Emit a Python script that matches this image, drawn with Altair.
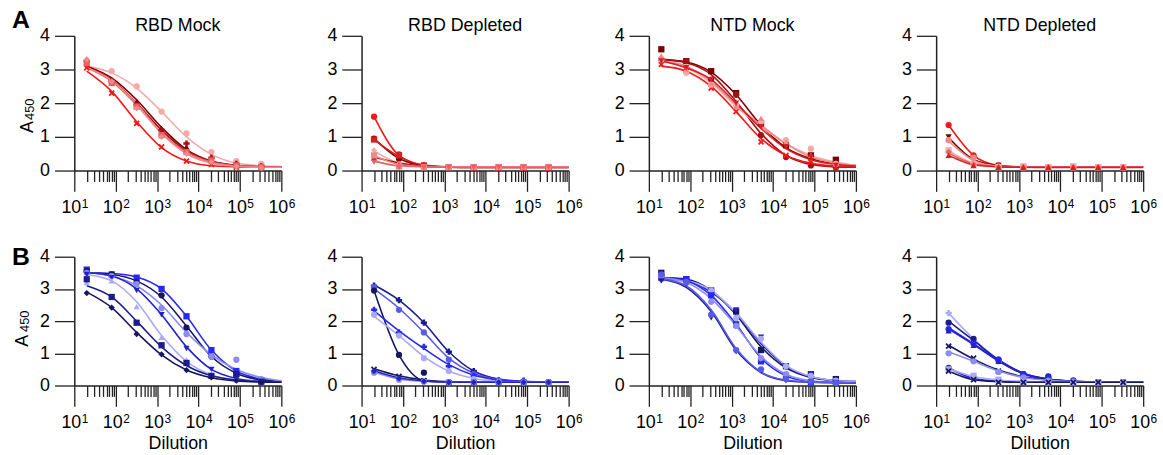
import altair as alt
import pandas as pd

# ---------------- data ----------------
DILUTIONS = [20, 80, 320, 1280, 5120, 20480, 81920, 327680]
FIT_DILUTIONS = DILUTIONS + [1000000]

PANEL_TITLES = ["RBD Mock", "RBD Depleted", "NTD Mock", "NTD Depleted"]
ROW_LABELS = ["A", "B"]
Y_TITLE_MAIN = "A"
Y_TITLE_SUB = "450"
X_TITLE = "Dilution"
X_MAJOR = [10, 100, 1000, 10000, 100000, 1000000]
X_MAJOR_BASE = ["10"] * 6
X_MAJOR_EXP = ["1", "2", "3", "4", "5", "6"]

RED_SHADES = ["#7a0000", "#a50f15", "#d42020", "#f01818", "#e86060", "#f08a8a", "#f5aaaa"]
BLUE_SHADES = ["#17175e", "#1c1c8c", "#2222c8", "#2828f5", "#5a5ae8", "#8c8cf2", "#aaaaf8"]

X_PATH = ("M-1,-0.6L-0.6,-1L0,-0.4L0.6,-1L1,-0.6L0.4,0L1,0.6L0.6,1L0,0.4"
          "L-0.6,1L-1,0.6L-0.4,0Z")
SHAPES = {"o": "circle", "s": "square", "v": "triangle-down", "^": "triangle-up",
          "d": "diamond", "+": "cross", "x": X_PATH}

# each panel: series style keys (shade index, marker) and values
A1_STYLE = [(6, "o"), (3, "x"), (0, "^"), (1, "+"), (4, "s"), (5, "d")]
A1_PTS = [
    [3.15, 2.95, 2.5, 1.75, 1.1, 0.55, 0.28, 0.2],
    [3.05, 2.3, 1.4, 0.7, 0.28, 0.18, 0.1, 0.1],
    [3.3, 2.7, 2.05, 1.25, 0.7, 0.35, 0.2, 0.12],
    [3.25, 2.65, 1.95, 1.2, 0.8, 0.38, 0.2, 0.12],
    [3.2, 2.6, 1.9, 1.05, 0.55, 0.3, 0.15, 0.1],
    [3.3, 2.65, 1.85, 1.0, 0.5, 0.25, 0.12, 0.08],
]
A1_FIT = [
    [3.1, 2.9, 2.45, 1.75, 1.0, 0.48, 0.22, 0.14, 0.12],
    [2.95, 2.35, 1.45, 0.68, 0.28, 0.14, 0.11, 0.1, 0.1],
    [3.1, 2.75, 2.1, 1.28, 0.62, 0.28, 0.15, 0.11, 0.1],
    [3.08, 2.7, 2.0, 1.2, 0.58, 0.27, 0.15, 0.11, 0.1],
    [3.05, 2.65, 1.95, 1.12, 0.55, 0.25, 0.14, 0.1, 0.1],
    [3.05, 2.68, 1.98, 1.1, 0.5, 0.22, 0.13, 0.1, 0.1],
]

A2_STYLE = [(3, "o"), (0, "o"), (2, "s"), (6, "d"), (1, "^"), (5, "s"), (4, "v")]
A2_PTS = [
    [1.6, 0.48, 0.15, 0.1, 0.08, 0.08, 0.07, 0.07],
    [0.95, 0.35, 0.14, 0.1, 0.08, 0.08, 0.08, 0.07],
    [0.92, 0.45, 0.15, 0.1, 0.1, 0.09, 0.1, 0.09],
    [0.6, 0.2, 0.1, 0.1, 0.1, 0.1, 0.12, 0.1],
    [0.38, 0.18, 0.1, 0.1, 0.09, 0.09, 0.09, 0.09],
    [0.45, 0.12, 0.1, 0.1, 0.1, 0.1, 0.1, 0.1],
    [0.25, 0.1, 0.1, 0.1, 0.1, 0.1, 0.1, 0.1],
]
A2_FIT = [
    [1.6, 0.45, 0.15, 0.1, 0.09, 0.09, 0.09, 0.09, 0.09],
    [0.95, 0.36, 0.14, 0.1, 0.09, 0.09, 0.09, 0.09, 0.09],
    [0.92, 0.42, 0.16, 0.11, 0.1, 0.1, 0.1, 0.1, 0.1],
    [0.58, 0.22, 0.12, 0.1, 0.1, 0.1, 0.1, 0.1, 0.1],
    [0.4, 0.22, 0.13, 0.1, 0.1, 0.1, 0.1, 0.1, 0.1],
    [0.45, 0.18, 0.12, 0.11, 0.11, 0.11, 0.11, 0.11, 0.11],
    [0.28, 0.14, 0.11, 0.1, 0.1, 0.1, 0.1, 0.1, 0.1],
]

A3_STYLE = [(0, "s"), (1, "o"), (3, "x"), (6, "o"), (5, "^"), (2, "v")]
A3_PTS = [
    [3.6, 3.25, 2.95, 2.3, 1.4, 0.75, 0.45, 0.32],
    [3.3, 3.25, 2.7, 2.25, 1.05, 0.4, 0.15, 0.1],
    [3.15, 2.95, 2.45, 1.75, 0.85, 0.45, 0.25, 0.1],
    [3.3, 2.9, 2.55, 1.95, 1.45, 0.9, 0.65, 0.2],
    [3.4, 3.0, 2.6, 1.9, 1.55, 0.85, 0.45, 0.2],
    [3.25, 3.05, 2.7, 2.0, 1.3, 0.7, 0.4, 0.15],
]
A3_FIT = [
    [3.3, 3.22, 2.92, 2.25, 1.35, 0.68, 0.35, 0.2, 0.15],
    [3.3, 3.2, 2.85, 2.05, 1.1, 0.45, 0.18, 0.11, 0.1],
    [3.1, 2.95, 2.5, 1.75, 0.95, 0.45, 0.22, 0.13, 0.11],
    [3.25, 3.05, 2.6, 1.9, 1.3, 0.8, 0.45, 0.25, 0.15],
    [3.25, 3.1, 2.65, 1.95, 1.35, 0.8, 0.4, 0.22, 0.15],
    [3.25, 3.05, 2.7, 2.0, 1.25, 0.65, 0.32, 0.18, 0.13],
]

A4_STYLE = [(3, "o"), (0, "v"), (5, "o"), (6, "s"), (4, "d"), (2, "^")]
A4_PTS = [
    [1.35, 0.45, 0.15, 0.1, 0.08, 0.08, 0.08, 0.08],
    [1.0, 0.35, 0.15, 0.12, 0.1, 0.12, 0.1, 0.1],
    [0.9, 0.38, 0.12, 0.1, 0.1, 0.1, 0.1, 0.1],
    [0.6, 0.2, 0.1, 0.1, 0.1, 0.1, 0.1, 0.1],
    [0.55, 0.18, 0.1, 0.1, 0.1, 0.1, 0.1, 0.1],
    [0.45, 0.15, 0.1, 0.1, 0.1, 0.1, 0.1, 0.1],
]
A4_FIT = [
    [1.35, 0.45, 0.15, 0.1, 0.09, 0.09, 0.09, 0.09, 0.09],
    [0.98, 0.33, 0.15, 0.11, 0.1, 0.1, 0.1, 0.1, 0.1],
    [0.88, 0.3, 0.13, 0.1, 0.1, 0.1, 0.1, 0.1, 0.1],
    [0.6, 0.22, 0.12, 0.1, 0.1, 0.1, 0.1, 0.1, 0.1],
    [0.52, 0.2, 0.12, 0.1, 0.1, 0.1, 0.1, 0.1, 0.1],
    [0.45, 0.17, 0.11, 0.1, 0.1, 0.1, 0.1, 0.1, 0.1],
]

B1_STYLE = [(3, "s"), (0, "o"), (5, "o"), (2, "v"), (6, "^"), (1, "s"), (0, "d")]
B1_PTS = [
    [3.6, 3.45, 3.35, 3.0, 2.15, 1.1, 0.45, 0.15],
    [3.55, 3.45, 3.2, 2.8, 1.8, 0.9, 0.35, 0.12],
    [3.5, 3.4, 3.15, 2.4, 1.6, 0.9, 0.8, 0.2],
    [3.45, 3.35, 2.95, 2.2, 1.15, 0.5, 0.2, 0.1],
    [3.2, 3.25, 2.45, 1.5, 0.8, 0.35, 0.18, 0.12],
    [3.3, 2.75, 1.95, 1.25, 0.7, 0.3, 0.35, 0.12],
    [2.87, 2.42, 1.6, 0.97, 0.48, 0.25, 0.15, 0.1],
]
B1_FIT = [
    [3.5, 3.48, 3.37, 3.0, 2.15, 1.1, 0.45, 0.2, 0.13],
    [3.5, 3.45, 3.25, 2.75, 1.85, 0.9, 0.38, 0.17, 0.12],
    [3.5, 3.4, 3.1, 2.5, 1.65, 0.95, 0.5, 0.25, 0.15],
    [3.5, 3.4, 3.0, 2.2, 1.2, 0.5, 0.22, 0.13, 0.11],
    [3.45, 3.25, 2.6, 1.55, 0.75, 0.33, 0.17, 0.12, 0.1],
    [3.1, 2.75, 2.0, 1.2, 0.62, 0.3, 0.17, 0.12, 0.1],
    [2.9, 2.42, 1.65, 0.95, 0.48, 0.24, 0.14, 0.11, 0.1],
]

B2_STYLE = [(1, "+"), (4, "o"), (0, "o"), (3, "+"), (6, "o"), (0, "x"), (5, "o"), (2, "d")]
B2_PTS = [
    [3.1, 2.65, 1.95, 1.05, 0.45, 0.15, 0.15, 0.1],
    [3.05, 2.35, 1.65, 0.8, 0.35, 0.15, 0.12, 0.1],
    [2.95, 0.95, 0.4, 0.1, 0.1, 0.1, 0.1, 0.1],
    [2.35, 1.65, 1.2, 0.6, 0.3, 0.15, 0.12, 0.1],
    [2.2, 1.55, 0.85, 0.45, 0.2, 0.12, 0.1, 0.1],
    [0.5, 0.28, 0.15, 0.1, 0.1, 0.1, 0.1, 0.1],
    [0.4, 0.18, 0.12, 0.1, 0.1, 0.1, 0.1, 0.1],
    [0.45, 0.22, 0.13, 0.1, 0.1, 0.1, 0.1, 0.1],
]
B2_FIT = [
    [3.12, 2.65, 1.95, 1.05, 0.45, 0.2, 0.13, 0.11, 0.1],
    [3.0, 2.4, 1.65, 0.85, 0.38, 0.18, 0.12, 0.1, 0.1],
    [2.95, 0.95, 0.15, 0.1, 0.1, 0.1, 0.1, 0.1, 0.1],
    [2.32, 1.7, 1.15, 0.65, 0.32, 0.17, 0.12, 0.1, 0.1],
    [2.15, 1.55, 0.9, 0.45, 0.22, 0.13, 0.1, 0.1, 0.1],
    [0.52, 0.3, 0.17, 0.12, 0.1, 0.1, 0.1, 0.1, 0.1],
    [0.42, 0.2, 0.13, 0.11, 0.1, 0.1, 0.1, 0.1, 0.1],
    [0.46, 0.24, 0.14, 0.11, 0.1, 0.1, 0.1, 0.1, 0.1],
]

B3_STYLE = [(0, "s"), (2, "v"), (6, "o"), (3, "s"), (5, "o"), (1, "v"), (4, "o")]
B3_PTS = [
    [3.5, 3.3, 2.95, 2.3, 1.1, 0.6, 0.35, 0.2],
    [3.35, 3.3, 2.85, 2.35, 1.5, 0.55, 0.35, 0.15],
    [3.3, 3.25, 2.95, 2.1, 1.45, 0.6, 0.3, 0.15],
    [3.35, 3.3, 2.8, 1.9, 0.75, 0.3, 0.1, 0.08],
    [3.4, 3.2, 2.6, 1.85, 0.85, 0.35, 0.15, 0.1],
    [3.25, 3.15, 2.1, 1.05, 0.45, 0.15, 0.1, 0.08],
    [3.45, 3.2, 2.2, 1.1, 0.5, 0.2, 0.12, 0.08],
]
B3_FIT = [
    [3.35, 3.3, 2.95, 2.2, 1.2, 0.55, 0.25, 0.15, 0.12],
    [3.35, 3.28, 2.9, 2.25, 1.3, 0.6, 0.27, 0.15, 0.12],
    [3.3, 3.25, 2.95, 2.25, 1.35, 0.62, 0.28, 0.15, 0.12],
    [3.35, 3.25, 2.8, 1.9, 0.85, 0.3, 0.12, 0.09, 0.08],
    [3.35, 3.2, 2.7, 1.85, 0.9, 0.35, 0.15, 0.1, 0.1],
    [3.3, 3.05, 2.3, 1.1, 0.4, 0.15, 0.1, 0.09, 0.08],
    [3.32, 3.1, 2.35, 1.15, 0.42, 0.17, 0.11, 0.09, 0.08],
]

B4_STYLE = [(6, "+"), (1, "o"), (3, "o"), (2, "^"), (0, "x"), (5, "o"), (3, "o"), (6, "s"), (0, "x")]
B4_PTS = [
    [2.25, 1.4, 0.75, 0.35, 0.2, 0.12, 0.1, 0.1],
    [1.95, 1.45, 0.8, 0.35, 0.28, 0.15, 0.1, 0.1],
    [1.75, 1.3, 0.8, 0.35, 0.25, 0.15, 0.1, 0.1],
    [1.7, 1.25, 0.75, 0.3, 0.2, 0.12, 0.1, 0.1],
    [1.22, 0.85, 0.45, 0.25, 0.15, 0.12, 0.1, 0.1],
    [1.0, 0.75, 0.42, 0.25, 0.15, 0.12, 0.1, 0.1],
    [0.55, 0.25, 0.15, 0.12, 0.1, 0.1, 0.1, 0.1],
    [0.5, 0.3, 0.18, 0.12, 0.1, 0.1, 0.1, 0.1],
    [0.45, 0.18, 0.1, 0.1, 0.1, 0.1, 0.1, 0.1],
]
B4_FIT = [
    [2.25, 1.45, 0.8, 0.38, 0.2, 0.13, 0.11, 0.1, 0.1],
    [2.0, 1.4, 0.8, 0.38, 0.2, 0.13, 0.11, 0.1, 0.1],
    [1.8, 1.3, 0.78, 0.37, 0.2, 0.13, 0.11, 0.1, 0.1],
    [1.75, 1.27, 0.76, 0.36, 0.19, 0.13, 0.11, 0.1, 0.1],
    [1.25, 0.82, 0.48, 0.27, 0.17, 0.12, 0.11, 0.1, 0.1],
    [1.05, 0.75, 0.45, 0.25, 0.16, 0.12, 0.11, 0.1, 0.1],
    [0.55, 0.22, 0.14, 0.12, 0.11, 0.1, 0.1, 0.1, 0.1],
    [0.52, 0.28, 0.17, 0.12, 0.1, 0.1, 0.1, 0.1, 0.1],
    [0.45, 0.18, 0.12, 0.1, 0.1, 0.1, 0.1, 0.1, 0.1],
]

PANELS = [
    [(A1_STYLE, A1_PTS, A1_FIT), (A2_STYLE, A2_PTS, A2_FIT),
     (A3_STYLE, A3_PTS, A3_FIT), (A4_STYLE, A4_PTS, A4_FIT)],
    [(B1_STYLE, B1_PTS, B1_FIT), (B2_STYLE, B2_PTS, B2_FIT),
     (B3_STYLE, B3_PTS, B3_FIT), (B4_STYLE, B4_PTS, B4_FIT)],
]
SHADES = [RED_SHADES, BLUE_SHADES]

# ---------------- styling / layout ----------------
FONT = "Liberation Sans"
FS = 18
X_TICKS = [m * 10 ** k for k in range(1, 6) for m in range(1, 10)] + [10 ** 6]
LOG10 = "log(datum.value)/LN10"
MAJOR = f"abs({LOG10} - round({LOG10})) < 0.001"
ROW_HEIGHTS = [136, 130]
PANEL_W = 209
YT_X = [-42, -47]          # baseline of rotated y title, per row
YT_A_Y = [98, 91]          # start of "A" along the rotated title, per row
YT_SUB_Y = [85, 76]        # start of the subscript, per row


def text_layer(txt, **kw):
    enc = {k: alt.value(v) for k, v in kw.pop("pos").items()}
    return alt.Chart(pd.DataFrame({"t": [txt]})).mark_text(
        font=FONT, color="black", **kw).encode(text="t:N", **enc)


def build_panel(r, c):
    style, pts, fit = PANELS[r][c]
    shades = SHADES[r]
    h = ROW_HEIGHTS[r]
    pt_rows, fit_rows = [], []
    for i, ((shade, mk), pv, fv) in enumerate(zip(style, pts, fit)):
        for d, v in zip(DILUTIONS, pv):
            pt_rows.append({"sid": i, "dil": d, "val": v, "col": shades[shade], "shp": SHAPES[mk]})
        for d, v in zip(FIT_DILUTIONS, fv):
            fit_rows.append({"sid": i, "dil": d, "val": v, "col": shades[shade]})
    df_pts = pd.DataFrame(pt_rows)
    df_fit = pd.DataFrame(fit_rows)
    df_lab = pd.DataFrame({"dil": X_MAJOR, "base": X_MAJOR_BASE, "exp": X_MAJOR_EXP})

    x_axis = alt.Axis(
        values=X_TICKS,
        tickSize={"condition": {"test": MAJOR, "value": 21}, "value": 11},
        labelExpr="''",
        title=X_TITLE if r == 1 else None,
        titlePadding=9,
    )
    y_axis = alt.Axis(values=[0, 1, 2, 3, 4], tickSize=20, labelPadding=5, title=None)
    x = alt.X("dil:Q", scale=alt.Scale(type="log", domain=[10, 1e6], nice=False), axis=x_axis)
    y = alt.Y("val:Q", scale=alt.Scale(domain=[0, 4], nice=False), axis=y_axis)

    lines = alt.Chart(df_fit).mark_line(interpolate="monotone", strokeWidth=1.6).encode(
        x=x, y=y, color=alt.Color("col:N", scale=None), detail="sid:N")
    points = alt.Chart(df_pts).mark_point(filled=True, size=40, opacity=1).encode(
        x=x, y=y, color=alt.Color("col:N", scale=None), shape=alt.Shape("shp:N", scale=None),
        detail="sid:N")
    lab_base = alt.Chart(df_lab).mark_text(
        font=FONT, fontSize=FS, color="black", align="right", baseline="alphabetic", dx=7
    ).encode(x=x, y=alt.value(h + 43), text="base:N")
    lab_exp = alt.Chart(df_lab).mark_text(
        font=FONT, fontSize=12, color="black", align="left", baseline="alphabetic", dx=7.5
    ).encode(x=x, y=alt.value(h + 38), text="exp:N")
    layers = [lines, points, lab_base, lab_exp]
    if r == 0:
        layers.append(text_layer(PANEL_TITLES[c], fontSize=FS, align="center",
                                 baseline="alphabetic", pos={"x": PANEL_W / 2, "y": -5}))
    if c == 0:
        layers.append(text_layer(ROW_LABELS[r], fontSize=25, fontWeight="bold", align="left",
                                 baseline="middle", pos={"x": -63, "y": -16 if r == 0 else 0}))
        layers.append(text_layer(Y_TITLE_MAIN, fontSize=FS, angle=270, align="left",
                                 baseline="alphabetic", pos={"x": YT_X[r], "y": YT_A_Y[r]}))
        layers.append(text_layer(Y_TITLE_SUB, fontSize=13, angle=270, align="left",
                                 baseline="alphabetic", pos={"x": YT_X[r] + 1, "y": YT_SUB_Y[r]}))
    return alt.layer(*layers).properties(width=PANEL_W, height=h)


rows = [alt.hconcat(*[build_panel(r, c) for c in range(4)], spacing=30) for r in range(2)]
chart = alt.vconcat(*rows, spacing=28).properties(
    padding={"left": 12, "top": 6, "right": 5, "bottom": 0}
).configure_view(stroke=None).configure_axis(
    grid=False, domainColor="#222222", tickColor="#222222", domainWidth=1.5, tickWidth=1.3,
    labelColor="black", titleColor="black", labelFont=FONT, titleFont=FONT,
    labelFontSize=FS, titleFontSize=FS, titleFontWeight="normal",
)

chart.save("out.html", embed_options={"renderer": "svg", "actions": False})
